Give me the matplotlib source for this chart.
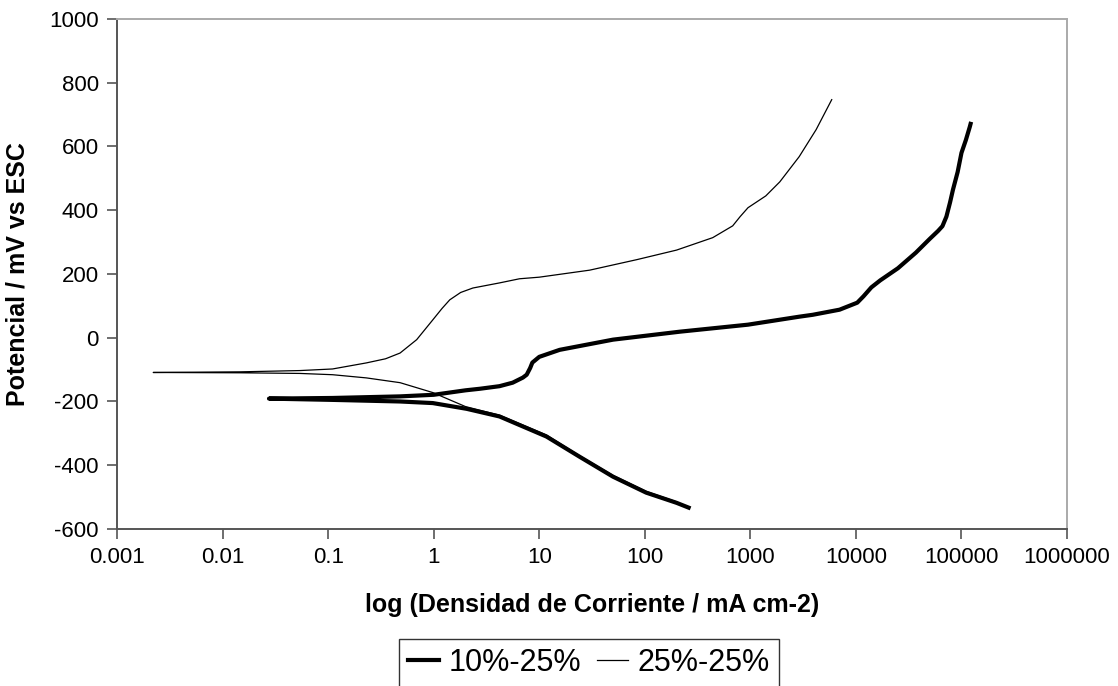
import matplotlib
matplotlib.use("Agg")
import matplotlib.pyplot as plt
from matplotlib import ticker

plt.rcParams['font.family'] = ['Liberation Sans', 'DejaVu Sans']
plt.rcParams['axes.unicode_minus'] = False

# 10%-25% : cathodic branch (from the far end) then anodic branch
i_10 = [260, 200, 103, 50, 24, 11.7, 4.2, 2.05, 0.98, 0.48, 0.11, 0.0275,
        0.11, 0.48, 1.0, 2.0, 2.75, 4.2, 5.6, 7.0, 7.6, 8.2, 8.6, 10, 15.6, 50, 215, 950,
        2900, 3900, 7000, 10300, 11800, 14000, 17000, 25000, 37000, 50000, 60000, 66000, 72000,
        78000, 83000, 92000, 100000, 110000, 120000, 122000]
e_10 = [-533, -518, -486, -436, -373, -310, -247, -223, -205, -200, -195, -191,
        -189, -184, -179, -165, -160, -152, -141, -125, -116, -95, -78, -60, -38, -6, 19, 41,
        66, 72, 88, 110, 130, 158, 180, 218, 267, 310, 335, 350, 380,
        425, 464, 520, 580, 620, 662, 671]

# 25%-25%
i_25 = [200, 103, 50, 24, 11.7, 4.2, 2.0, 0.98, 0.48, 0.23, 0.11, 0.054, 0.0146, 0.0022,
        0.0146, 0.054, 0.11, 0.23, 0.35, 0.48, 0.69, 0.98, 1.2, 1.42, 1.8, 2.35, 4.2, 6.5, 10,
        30, 84, 200, 440, 680, 800, 950, 1400, 1900, 2900, 4200, 5900]
e_25 = [-515, -482, -432, -370, -305, -243, -216, -172, -141, -126, -116, -112, -110, -109,
        -107, -103, -98, -79, -66, -48, -6, 56, 92, 119, 142, 156, 172, 185, 190,
        212, 245, 275, 314, 351, 380, 408, 445, 489, 568, 653, 747]

x_ticks = [0.001, 0.01, 0.1, 1, 10, 100, 1000, 10000, 100000, 1000000]
x_labels = ['0.001', '0.01', '0.1', '1', '10', '100', '1000', '10000', '100000', '1000000']

fig = plt.figure(figsize=(11.18, 6.86), dpi=100)
ax = fig.add_axes([0.1047, 0.2289, 0.8497, 0.7434])

ax.plot(i_10, e_10, color='black', lw=3.0, label='10%-25%')
ax.plot(i_25, e_25, color='black', lw=0.9, label='25%-25%')

ax.set_xscale('log')
ax.set_xlim(0.001, 1000000)
ax.set_ylim(-600, 1000)
ax.xaxis.set_major_locator(ticker.FixedLocator(x_ticks))
ax.xaxis.set_major_formatter(ticker.FixedFormatter(x_labels))
ax.xaxis.set_minor_locator(ticker.NullLocator())
ax.yaxis.set_major_locator(ticker.MultipleLocator(200))

ax.tick_params(axis='both', direction='out', length=7, width=1.2, color='#555555',
               labelsize=16, pad=6)

ax.spines['left'  ].set_color('#555555')
ax.spines['bottom'].set_color('#555555')
ax.spines['left'  ].set_linewidth(1.4)
ax.spines['bottom'].set_linewidth(1.4)
ax.spines['top'   ].set_color('#aaaaaa')
ax.spines['right' ].set_color('#aaaaaa')
ax.spines['top'   ].set_linewidth(1.4)
ax.spines['right' ].set_linewidth(1.4)

ax.set_xlabel('log (Densidad de Corriente / mA cm-2)', fontsize=18, fontweight='bold', labelpad=18)
ax.set_ylabel('Potencial / mV vs ESC', fontsize=18, fontweight='bold', labelpad=14)

leg = fig.legend(loc='upper center', bbox_to_anchor=(0.527, 0.091), ncol=2, fontsize=22,
                 frameon=True, fancybox=False, edgecolor='black', handlelength=1.0,
                 handletextpad=0.33, columnspacing=0.5, borderpad=0.3)
leg.get_frame().set_linewidth(1.0)

fig.savefig('out.png', dpi=100)
